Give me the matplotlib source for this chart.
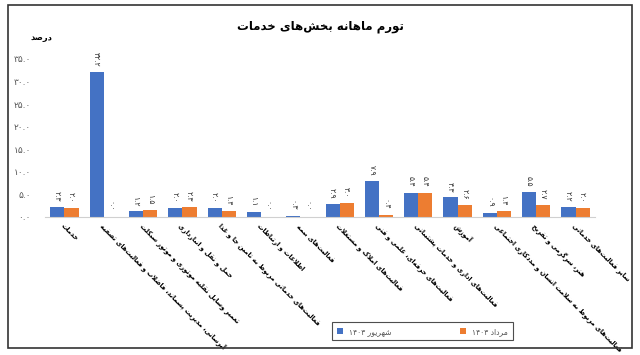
import re
import matplotlib
matplotlib.use("Agg")
import matplotlib.pyplot as plt
import numpy as np
from matplotlib.patches import Rectangle

title = "تورم ماهانه بخش‌های خدمات"
unit = "درصد"
categories = [
    "خدمات",
    "آبرسانی، مدیریت پسماند، فاضلاب و فعالیت‌های تصفیه",
    "تعمیر وسایل نقلیه موتوری و موتور سیکلت",
    "حمل و نقل و انبارداری",
    "فعالیت‌های خدماتی مربوط به تامین جا و غذا",
    "اطلاعات و ارتباطات",
    "فعالیت‌های بیمه",
    "فعالیت‌های املاک و مستغلات",
    "فعالیت‌های حرفه‌ای، علمی و فنی",
    "فعالیت‌های اداری و خدمات پشتیبانی",
    "آموزش",
    "فعالیت‌های مربوط به سلامت انسان و مددکاری اجتماعی",
    "هنر، سرگرمی و تفریح",
    "سایر فعالیت‌های خدماتی",
]
shahrivar = [2.3, 32.2, 1.2, 2.0, 2.0, 1.1, 0.3, 2.9, 7.9, 5.4, 4.3, 0.9, 5.5, 2.2]
mordad = [2.0, 0.0, 1.5, 2.3, 1.4, 0.0, 0.0, 3.0, 0.4, 5.4, 2.6, 1.4, 2.7, 2.0]
series_names = ["شهریور ۱۴۰۳", "مرداد ۱۴۰۳"]
yticks = [0, 5, 10, 15, 20, 25, 30, 35]

# arabic presentation forms: isolated, final, initial, medial
FORMS = {
    'ا': (0xFE8D, 0xFE8E, None, None), 'آ': (0xFE81, 0xFE82, None, None),
    'ب': (0xFE8F, 0xFE90, 0xFE91, 0xFE92), 'پ': (0xFB56, 0xFB57, 0xFB58, 0xFB59),
    'ت': (0xFE95, 0xFE96, 0xFE97, 0xFE98), 'ث': (0xFE99, 0xFE9A, 0xFE9B, 0xFE9C),
    'ج': (0xFE9D, 0xFE9E, 0xFE9F, 0xFEA0), 'چ': (0xFB7A, 0xFB7B, 0xFB7C, 0xFB7D),
    'ح': (0xFEA1, 0xFEA2, 0xFEA3, 0xFEA4), 'خ': (0xFEA5, 0xFEA6, 0xFEA7, 0xFEA8),
    'د': (0xFEA9, 0xFEAA, None, None), 'ذ': (0xFEAB, 0xFEAC, None, None),
    'ر': (0xFEAD, 0xFEAE, None, None), 'ز': (0xFEAF, 0xFEB0, None, None),
    'ژ': (0xFB8A, 0xFB8B, None, None),
    'س': (0xFEB1, 0xFEB2, 0xFEB3, 0xFEB4), 'ش': (0xFEB5, 0xFEB6, 0xFEB7, 0xFEB8),
    'ص': (0xFEB9, 0xFEBA, 0xFEBB, 0xFEBC), 'ض': (0xFEBD, 0xFEBE, 0xFEBF, 0xFEC0),
    'ط': (0xFEC1, 0xFEC2, 0xFEC3, 0xFEC4), 'ظ': (0xFEC5, 0xFEC6, 0xFEC7, 0xFEC8),
    'ع': (0xFEC9, 0xFECA, 0xFECB, 0xFECC), 'غ': (0xFECD, 0xFECE, 0xFECF, 0xFED0),
    'ف': (0xFED1, 0xFED2, 0xFED3, 0xFED4), 'ق': (0xFED5, 0xFED6, 0xFED7, 0xFED8),
    'ک': (0xFB8E, 0xFB8F, 0xFB90, 0xFB91), 'گ': (0xFB92, 0xFB93, 0xFB94, 0xFB95),
    'ل': (0xFEDD, 0xFEDE, 0xFEDF, 0xFEE0), 'م': (0xFEE1, 0xFEE2, 0xFEE3, 0xFEE4),
    'ن': (0xFEE5, 0xFEE6, 0xFEE7, 0xFEE8), 'و': (0xFEED, 0xFEEE, None, None),
    'ه': (0xFEE9, 0xFEEA, 0xFEEB, 0xFEEC), 'ی': (0xFBFC, 0xFBFD, 0xFBFE, 0xFBFF),
}
LAM_ALEF = {'ا': (0xFEFB, 0xFEFC), 'آ': (0xFEF5, 0xFEF6)}


def joins_next(c):
    return c in FORMS and FORMS[c][2] is not None


def shape(s):
    out = []
    i = 0
    while i < len(s):
        c = s[i]
        if c not in FORMS:
            if c != '\u200c':
                out.append(c)
            i += 1
            continue
        p = i > 0 and joins_next(s[i - 1])
        if c == 'ل' and i + 1 < len(s) and s[i + 1] in LAM_ALEF:
            out.append(chr(LAM_ALEF[s[i + 1]][1 if p else 0]))
            i += 2
            continue
        q = joins_next(c) and i + 1 < len(s) and s[i + 1] in FORMS
        iso, fin, ini, med = FORMS[c]
        out.append(chr(med if p and q else fin if p else ini if q else iso))
        i += 1
    return ''.join(out)


def rtl(s):
    parts = re.split(r'([۰-۹0-9][۰-۹0-9.]*)', shape(s))
    return ''.join(p if re.match(r'[۰-۹0-9]', p) else p[::-1] for p in reversed(parts))


def fa(v):
    return f"{v:.1f}".translate(str.maketrans("0123456789", "۰۱۲۳۴۵۶۷۸۹"))


plt.rcParams['font.family'] = ['DejaVu Sans']
blue = '#4472C4'
orange = '#ED7D31'

fig = plt.figure(figsize=(6.4, 3.55), dpi=100)
ax = fig.add_axes([0.07, 0.389, 0.86, 0.445])

x = np.arange(len(categories))
w = 0.36
b1 = ax.bar(x - w / 2, shahrivar, w, color=blue, label=rtl(series_names[0]))
b2 = ax.bar(x + w / 2, mordad, w, color=orange, label=rtl(series_names[1]))

for bars, vals in ((b1, shahrivar), (b2, mordad)):
    for r, v in zip(bars, vals):
        ax.text(r.get_x() + r.get_width() / 2, v + 1.2, fa(v), rotation=270,
                ha='center', va='bottom', fontsize=5.5, color='#333333')

ax.set_xlim(-0.5, len(categories) - 0.5)
ax.set_ylim(0, 35)
ax.set_yticks(yticks)
ax.set_yticklabels([fa(t) for t in yticks], fontsize=6.5, color='#555555')
ax.tick_params(axis='y', length=0, pad=10)
ax.tick_params(axis='x', length=0, pad=4)
ax.set_xticks(x)
ax.set_xticklabels([rtl(c) for c in categories], rotation=-45, ha='left',
                   rotation_mode='anchor', fontsize=4.7, fontweight='bold')
for s in ('top', 'right', 'left'):
    ax.spines[s].set_visible(False)
ax.spines['bottom'].set_color('#d0d0d0')

fig.text(0.5, 0.925, rtl(title), ha='center', va='center', fontsize=8.5, fontweight='bold')
fig.text(0.065, 0.893, rtl(unit), ha='center', va='center', fontsize=6, fontweight='bold')

leg = fig.legend(loc='center', bbox_to_anchor=(0.66, 0.067), ncol=2, fontsize=5.5,
                 frameon=True, fancybox=False, handlelength=0.8, handleheight=0.8,
                 columnspacing=9, borderpad=0.6, borderaxespad=0)
leg.get_frame().set_edgecolor('#222222')
leg.get_frame().set_linewidth(0.8)
for t in leg.get_texts():
    t.set_color('#555555')

fig.patches.append(Rectangle((0.013, 0.02), 0.975, 0.965, transform=fig.transFigure,
                             fill=False, edgecolor='#333333', linewidth=1.2))

fig.savefig("out.png", dpi=100)
